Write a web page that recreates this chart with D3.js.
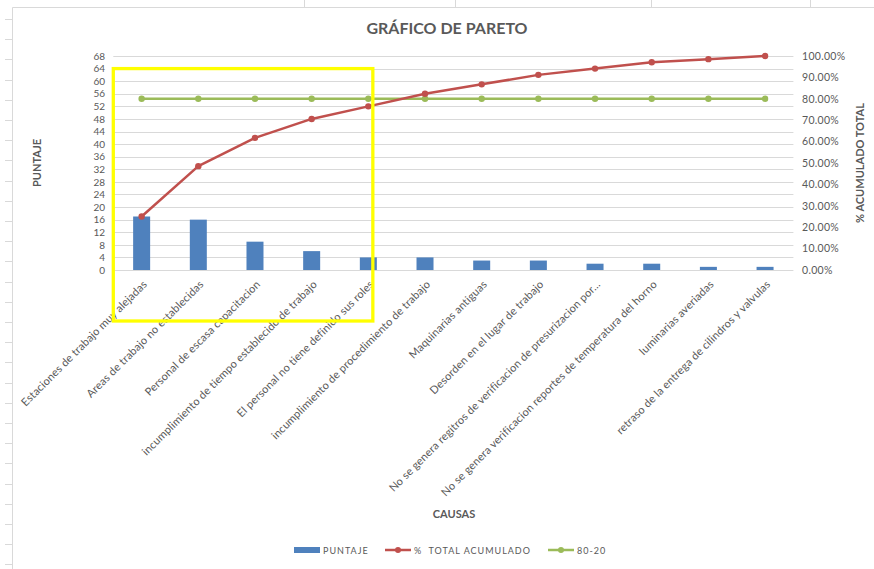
<!DOCTYPE html>
<html>
<head>
<meta charset="utf-8">
<script src="https://cdn.jsdelivr.net/npm/d3@7/dist/d3.min.js"></script>
<style>
  html, body { margin: 0; padding: 0; background: #fff; }
  svg { display: block; font-family: Lato, "Open Sans", sans-serif; }
</style>
</head>
<body>
<svg id="chart" width="874" height="569"></svg>
<script>
// Causes, ordered by score (descending)
const causas = [
  "Estaciones de trabajo muy alejadas",
  "Areas  de trabajo no establecidas",
  "Personal de escasa capacitacion",
  "incumplimiento de tiempo establecido de trabajo",
  "El personal no tiene definido sus roles",
  "incumplimiento de procedimiento de trabajo",
  "Maquinarias antiguas",
  "Desorden en el lugar de trabajo",
  "No se genera regitros de verificacion de presurizacion por…",
  "No se genera verificacion reportes de temperatura del horno",
  "luminarias averiadas",
  "retraso de la entrega de cilindros y valvulas"
];
const puntaje = [17, 16, 9, 6, 4, 4, 3, 3, 2, 2, 1, 1];
const acumulado = [0.25, 0.4853, 0.6176, 0.7059, 0.7647, 0.8235, 0.8676, 0.9118, 0.9412, 0.9706, 0.9853, 1.0];
const regla8020 = [0.8, 0.8, 0.8, 0.8, 0.8, 0.8, 0.8, 0.8, 0.8, 0.8, 0.8, 0.8];
const ticksPuntaje = d3.range(0, 69, 4);
const ticksPct = d3.range(0, 1.0001, 0.1);

const C = { bar: "#4F81BD", red: "#C0504D", green: "#9BBB59", text: "#595959", grid: "#D9D9D9" };

const svg = d3.select("#chart");

// spreadsheet backdrop: sheet edge, row marks and column dividers
const sheet = svg.append("g").attr("stroke", "#D9D9D9").attr("stroke-width", 1);
sheet.append("line").attr("x1", 12.5).attr("x2", 12.5).attr("y1", 7.5).attr("y2", 569);
sheet.append("line").attr("x1", 12.5).attr("x2", 874).attr("y1", 7.5).attr("y2", 7.5);
d3.range(19, 569, 20.2).forEach(y => {
  sheet.append("line").attr("x1", 5).attr("x2", 12).attr("y1", Math.round(y) + 0.5).attr("y2", Math.round(y) + 0.5);
});
[304, 455, 651, 810].forEach(x => {
  sheet.append("line").attr("x1", x + 0.5).attr("x2", x + 0.5).attr("y1", 0).attr("y2", 7);
});

// scales
const x = d3.scaleBand().domain(causas).range([113.3, 793.4]).paddingInner(0).paddingOuter(0);
const yL = d3.scaleLinear().domain([0, 68]).range([270, 56]);
const yR = d3.scaleLinear().domain([0, 1]).range([270, 56]);
const cx = d => x(d) + x.bandwidth() / 2;
const barW = x.bandwidth() * 0.3;

// gridlines
svg.append("g").selectAll("line").data(ticksPuntaje).join("line")
  .attr("x1", x.range()[0]).attr("x2", x.range()[1])
  .attr("y1", d => Math.round(yL(d)) + 0.5).attr("y2", d => Math.round(yL(d)) + 0.5)
  .attr("stroke", C.grid).attr("stroke-width", 1);

// left axis
const axL = svg.append("g").attr("transform", "translate(105,0)")
  .call(d3.axisLeft(yL).tickValues(ticksPuntaje).tickSize(0).tickPadding(0));
axL.select(".domain").remove();
axL.selectAll("text").attr("fill", C.text).style("font-size", "10px").style("font-family", "Lato, sans-serif");

// right axis
const axR = svg.append("g").attr("transform", "translate(802,0)")
  .call(d3.axisRight(yR).tickValues(ticksPct).tickSize(0).tickPadding(0).tickFormat(d3.format(".2%")));
axR.select(".domain").remove();
axR.selectAll("text").attr("fill", C.text).style("font-size", "10.5px").style("letter-spacing", "0.3px")
  .style("font-family", "Lato, sans-serif");

// bars
svg.append("g").selectAll("rect").data(puntaje).join("rect")
  .attr("x", (d, i) => cx(causas[i]) - barW / 2)
  .attr("width", barW)
  .attr("y", d => yL(d))
  .attr("height", d => yL(0) - yL(d))
  .attr("fill", C.bar);

// lines with markers
function serie(values, color) {
  const line = d3.line().x((d, i) => cx(causas[i])).y(d => yR(d));
  const g = svg.append("g");
  g.append("path").datum(values).attr("d", line)
    .attr("fill", "none").attr("stroke", color).attr("stroke-width", 2.5).attr("stroke-linejoin", "round");
  g.selectAll("circle").data(values).join("circle")
    .attr("cx", (d, i) => cx(causas[i])).attr("cy", d => yR(d)).attr("r", 3.2).attr("fill", color);
}
serie(regla8020, C.green);
serie(acumulado, C.red);

// category labels
svg.append("g").selectAll("text").data(causas).join("text")
  .attr("transform", d => `translate(${cx(d) + 6},${285}) rotate(-45)`)
  .attr("text-anchor", "end")
  .attr("fill", C.text).style("font-size", "11px").style("letter-spacing", "0.15px")
  .text(d => d);

// titles
svg.append("text").attr("x", 447).attr("y", 34).attr("text-anchor", "middle")
  .attr("fill", C.text).style("font-size", "16px").style("font-weight", "bold").text("GRÁFICO DE PARETO");
svg.append("text").attr("x", 454).attr("y", 518).attr("text-anchor", "middle")
  .attr("fill", C.text).style("font-size", "11px").style("font-weight", "bold").text("CAUSAS");
svg.append("text").attr("transform", "translate(41,163) rotate(-90)").attr("text-anchor", "middle")
  .attr("fill", C.text).style("font-size", "11px").style("font-weight", "bold").text("PUNTAJE");
svg.append("text").attr("transform", "translate(864,163) rotate(-90)").attr("text-anchor", "middle")
  .attr("fill", C.text).style("font-size", "11px").style("font-weight", "bold").text("% ACUMULADO TOTAL");

// legend
const lg = svg.append("g").style("font-size", "9px").attr("fill", C.text);
lg.append("rect").attr("x", 294).attr("y", 547).attr("width", 26).attr("height", 6).attr("fill", C.bar);
lg.append("text").attr("x", 323).attr("y", 553.5).attr("letter-spacing", "1px").text("PUNTAJE");
[[385, C.red, "%  TOTAL ACUMULADO"], [548, C.green, "80-20"]].forEach(([lx, col, label]) => {
  lg.append("line").attr("x1", lx).attr("x2", lx + 26).attr("y1", 550).attr("y2", 550)
    .attr("stroke", col).attr("stroke-width", 2.5);
  lg.append("circle").attr("cx", lx + 13).attr("cy", 550).attr("r", 3).attr("fill", col);
  lg.append("text").attr("x", lx + 29).attr("y", 553.5).attr("letter-spacing", "1px")
    .attr("xml:space", "preserve").style("white-space", "pre").text(label);
});

// highlight box around the leading causes
svg.append("rect")
  .attr("x", x.range()[0])
  .attr("y", yL(64))
  .attr("width", cx(causas[4]) + 4.5 - x.range()[0])
  .attr("height", 321 - yL(64))
  .attr("fill", "none").attr("stroke", "#FFFF00").attr("stroke-width", 3.3);
</script>
</body>
</html>
